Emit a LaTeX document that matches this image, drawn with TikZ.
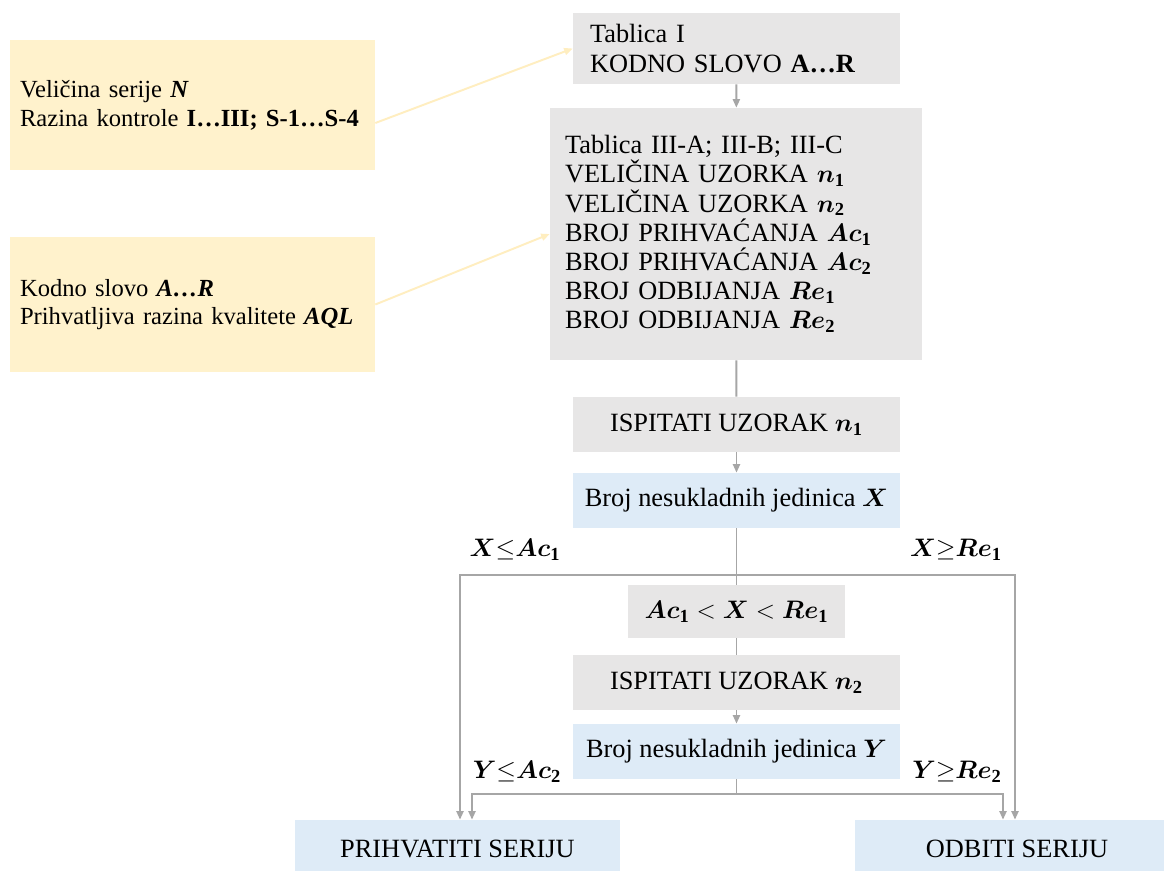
\documentclass[tikz,border=0pt]{standalone}
\usepackage{amsmath,amssymb,bm}
\usepackage{fontspec}
\setmainfont{Liberation Serif}
\usetikzlibrary{arrows.meta,positioning,calc}

\definecolor{yelfill}{HTML}{FFF2CC}
\definecolor{grayfill}{HTML}{E7E6E6}
\definecolor{bluefill}{HTML}{DEEBF7}
\definecolor{linegray}{HTML}{A6A6A6}
\definecolor{yelline}{HTML}{FFEEC0}

\newcommand{\bi}[1]{\textbf{\textit{#1}}}
\newcommand{\ix}[2]{$\bm{#1}_{\mathbf{#2}}$}

\begin{document}
\begin{tikzpicture}[x=0.02cm,y=-0.02cm,
    every node/.style={font=\fontsize{15}{16.6}\selectfont, inner sep=0pt},
    inputbox/.style={fill=yelfill, minimum width=7.3cm, text width=6.9cm, align=left,
      font=\fontsize{14}{16.4}\selectfont},
    tablebox/.style={fill=grayfill, align=left},
    stepbox/.style={fill=grayfill, minimum width=6.54cm, minimum height=1.1cm},
    countbox/.style={fill=bluefill, minimum width=6.54cm, minimum height=1.1cm},
    endbox/.style={fill=bluefill, minimum width=6.5cm, minimum height=1.16cm},
    conn/.style={draw=linegray, line width=1.1pt},
    feed/.style={draw=yelline, line width=1.1pt},
    tip/.tip={Triangle[length=1.7mm,width=1.4mm]}]

  \fill[white] (0,0) rectangle (1164,870);
  \useasboundingbox (0,0) rectangle (1164,870);

  % inputs
  \node[inputbox, minimum height=2.6cm] (lot) at (192.5,105)
    {Veličina serije \bi{N}\\ Razina kontrole \textbf{I…III; S-1…S-4}};
  \node[inputbox, minimum height=2.7cm] (aql) at (192.5,304.5)
    {Kodno slovo \bi{A…R}\\ Prihvatljiva razina kvalitete \bi{AQL}};

  % tables
  \node[tablebox, minimum width=6.54cm, text width=5.86cm, minimum height=1.42cm] (tabI) at (736.5,48.5)
    {Tablica I\\ KODNO SLOVO \textbf{A…R}};
  \node[tablebox, minimum width=7.44cm, text width=6.84cm, minimum height=5.04cm] (tabIII) at (736,234)
    {Tablica III-A; III-B; III-C\\
     VELIČINA UZORKA \ix{n}{1}\\
     VELIČINA UZORKA \ix{n}{2}\\
     BROJ PRIHVAĆANJA \ix{Ac}{1}\\
     BROJ PRIHVAĆANJA \ix{Ac}{2}\\
     BROJ ODBIJANJA \ix{Re}{1}\\
     BROJ ODBIJANJA \ix{Re}{2}};

  % first sample
  \node[stepbox] (testA) at (736.5,424.5) {ISPITATI UZORAK \ix{n}{1}};
  \node[countbox] (countX) at (736.5,500.5) {Broj nesukladnih jedinica $\bm{X}$};
  \node[stepbox, minimum width=4.34cm, minimum height=1.06cm] (mid) at (736.5,611.5)
    {$\bm{Ac}_{\mathbf{1}} < \bm{X} < \bm{Re}_{\mathbf{1}}$};

  % second sample
  \node[stepbox] (testB) at (736.5,682.5) {ISPITATI UZORAK \ix{n}{2}};
  \node[countbox] (countY) at (736.5,751.5) {Broj nesukladnih jedinica $\bm{Y}$};

  % decisions
  \node[endbox] (accept) at (457.5,849) {PRIHVATITI SERIJU};
  \node[endbox] (reject) at (1017,849) {ODBITI SERIJU};

  \node (xacc) at (515,550) {$\bm{X}{\leq}\bm{Ac}_{\mathbf{1}}$};
  \node (xrej) at (956,550) {$\bm{X}{\geq}\bm{Re}_{\mathbf{1}}$};
  \node (yacc) at (517,772) {$\bm{Y}{\leq}\bm{Ac}_{\mathbf{2}}$};
  \node (yrej) at (957,772) {$\bm{Y}{\geq}\bm{Re}_{\mathbf{2}}$};

  \coordinate (xl) at (460,575);
  \coordinate (xr) at (1015,575);
  \coordinate (yl) at (472,794);
  \coordinate (yr) at (1003,794);

  \draw[feed,-tip] ($(lot.east)+(0,18)$) -- (tabI.west);
  \draw[feed,-tip] (aql.east) -- (tabIII.west);

  \draw[conn,-tip] (tabI) -- (tabIII);
  \draw[conn] (tabIII) -- (testA);
  \draw[conn,-tip] (testA) -- (countX);
  \draw[conn] (countX) -- (mid);
  \draw[conn] (mid) -- (testB);
  \draw[conn,-tip] (testB) -- (countY);
  \draw[conn] (countY) -- (countY.south |- yl);

  \draw[conn,tip-tip] (xl |- accept.north) -- (xl) -- (xr) -- (xr |- reject.north);
  \draw[conn,tip-tip] (yl |- accept.north) -- (yl) -- (yr) -- (yr |- reject.north);
\end{tikzpicture}
\end{document}
